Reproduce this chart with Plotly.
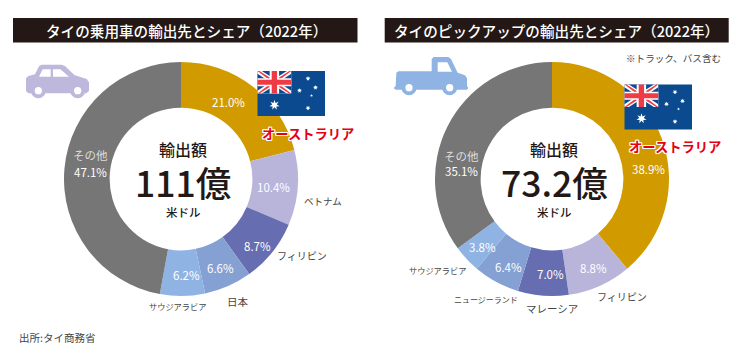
import plotly.graph_objects as go
import math

W, H = 740, 358
FONT = "Noto Sans CJK JP"

# --- data ---
car_labels = ["オーストラリア", "ベトナム", "フィリピン", "日本", "サウジアラビア", "その他"]
car_values = [21.0, 10.4, 8.7, 6.6, 6.2, 47.1]
car_total = "111億"
pickup_labels = ["オーストラリア", "フィリピン", "マレーシア", "ニュージーランド", "サウジアラビア", "その他"]
pickup_values = [38.9, 8.8, 7.0, 6.4, 3.8, 35.1]
pickup_total = "73.2億"
car_colors = ["#D19B00", "#B9B4DA", "#666DB0", "#85A0D2", "#8FB4E3", "#767676"]
pickup_colors = ["#D19B00", "#B9B4DA", "#666DB0", "#85A0D2", "#8FB4E3", "#767676"]
car_title = "タイの乗用車の輸出先とシェア\uff082022年\uff09"
pickup_title = "タイのピックアップの輸出先とシェア\uff082022年\uff09"


def px(x):
    return x / W


def py(y):
    return 1 - y / H


def poly(points):
    return "M" + " L".join(f"{px(x):.5f},{py(y):.5f}" for x, y in points) + " Z"


def donut(labels, values, colors, cx):
    R, cy = 117, 179
    return go.Pie(
        labels=labels, values=values, textinfo="none",
        marker=dict(colors=colors, line=dict(width=0)),
        sort=False, direction="clockwise", rotation=0, hole=0.61,
        domain=dict(x=[px(cx - R), px(cx + R)], y=[py(cy + R), py(cy - R)]),
        showlegend=False, hoverinfo="skip",
    )


fig = go.Figure([donut(car_labels, car_values, car_colors, 181),
                 donut(pickup_labels, pickup_values, pickup_colors, 552)])

shapes, annos = [], []


def rect(x0, y0, x1, y1, color):
    shapes.append(dict(type="rect", xref="paper", yref="paper", x0=px(x0), x1=px(x1),
                       y0=py(y0), y1=py(y1), fillcolor=color, line=dict(width=0), layer="above"))


def path(points, color):
    shapes.append(dict(type="path", xref="paper", yref="paper", path=poly(points),
                       fillcolor=color, line=dict(width=0), layer="above"))


def circle(cx, cy, r, color):
    shapes.append(dict(type="circle", xref="paper", yref="paper", x0=px(cx - r), x1=px(cx + r),
                       y0=py(cy + r), y1=py(cy - r), fillcolor=color, line=dict(width=0), layer="above"))


def text(x, y, s, size, color="#231815", anchor="center", weight=400, shadow=None, height=None):
    f = dict(family=FONT, size=size, color=color, weight=weight)
    if shadow:
        f["shadow"] = shadow
    a = dict(x=px(x), y=py(y), xref="paper", yref="paper", text=s, showarrow=False,
             xanchor=anchor, yanchor="middle", font=f, borderpad=0)
    if height:
        a["height"] = height
    annos.append(a)


def star(cx, cy, r, n=7, color="#FFFFFF"):
    pts = []
    for i in range(2 * n):
        a = math.pi * i / n - math.pi / 2
        rr = r if i % 2 == 0 else r * 0.45
        pts.append((cx + rr * math.cos(a), cy + rr * math.sin(a)))
    path(pts, color)


def flag(x0, y0):
    w, h = 67.5, 45.0
    navy, red = "#0B4A8F", "#EE3B45"
    rect(x0, y0, x0 + w, y0 + h, navy)
    cw, ch = w * 0.5, h * 0.5
    rect(x0, y0, x0 + cw, y0 + ch, "#FFFFFF")
    tri = [((.13, 0), (.87, 0), (.5, .36)), ((.13, 1), (.87, 1), (.5, .64)),
           ((0, .12), (0, .88), (.38, .5)), ((1, .12), (1, .88), (.62, .5))]
    for t in tri:
        path([(x0 + a * cw, y0 + b * ch) for a, b in t], navy)
    d = [((0, 0), (.06, 0), (.5, .42), (.44, .5)), ((1, 1), (.94, 1), (.5, .58), (.56, .5)),
         ((1, 0), (.94, 0), (.5, .42), (.56, .5)), ((0, 1), (.06, 1), (.5, .58), (.44, .5))]
    for t in d:
        path([(x0 + a * cw, y0 + b * ch) for a, b in t], red)
    rect(x0 + cw * .36, y0, x0 + cw * .64, y0 + ch, "#FFFFFF")
    rect(x0, y0 + ch * .32, x0 + cw, y0 + ch * .68, "#FFFFFF")
    rect(x0 + cw * .42, y0, x0 + cw * .58, y0 + ch, red)
    rect(x0, y0 + ch * .39, x0 + cw, y0 + ch * .61, red)
    star(x0 + 17, y0 + 34, 5.2)
    star(x0 + 50.5, y0 + 7.5, 2.6)
    star(x0 + 42, y0 + 19.5, 2.6)
    star(x0 + 58, y0 + 16.5, 2.6)
    star(x0 + 54, y0 + 24.5, 1.5, 5)
    star(x0 + 50.5, y0 + 37, 2.6)


def car_icon(color="#BDB8DC"):
    z = lambda x, y: (15 + x / 3, 55 + y / 3)
    path([z(*p) for p in [(33, 70), (40, 63), (60, 58), (72, 34), (80, 29), (140, 29), (150, 33), (178, 60),
                          (215, 72), (222, 82), (222, 108), (214, 115), (40, 115), (33, 108)]], color)
    path([z(*p) for p in [(72, 65), (83, 43), (107, 43), (107, 65)]], "#FFFFFF")
    path([z(*p) for p in [(114, 43), (136, 43), (162, 65), (114, 65)]], "#FFFFFF")
    for x in (70, 188):
        c = z(x, 107)
        circle(c[0], c[1], 7.5, color)
        circle(c[0], c[1], 3.6, "#FFFFFF")


def truck_icon(color="#8FB4E3"):
    z = lambda x, y: (385 + x / 3, 50 + y / 3)
    path([z(*p) for p in [(34, 68), (40, 64), (140, 64), (140, 28), (146, 21), (190, 21), (198, 27), (218, 68),
                          (240, 76), (246, 85), (246, 108), (250, 114), (246, 119), (32, 119), (26, 114), (32, 108)]], color)
    path([z(*p) for p in [(158, 37), (187, 37), (201, 65), (158, 65)]], "#FFFFFF")
    for x in (72, 194):
        c = z(x, 113)
        circle(c[0], c[1], 7.5, color)
        circle(c[0], c[1], 3.6, "#FFFFFF")


# title bars
rect(13, 18, 357.5, 42.5, "#231815")
rect(384.7, 18, 728.7, 42.5, "#231815")
text(186, 30.5, car_title, 14.6, "#FFFFFF", weight=500)
text(556.5, 30.5, pickup_title, 14.6, "#FFFFFF", weight=500)

text(673, 58, "※トラック、バス含む", 9.6, "#444444")

car_icon()
truck_icon()
flag(257.5, 71)
flag(624.5, 84.5)

halo = "1px 0 0 #fff,-1px 0 0 #fff,0 1px 0 #fff,0 -1px 0 #fff,1px 1px 0 #fff,-1px -1px 0 #fff,1px -1px 0 #fff,-1px 1px 0 #fff"
text(308, 133, car_labels[0], 13.3, "#E60012", weight=700, shadow=halo)
text(675, 146, pickup_labels[0], 13.3, "#E60012", weight=700, shadow=halo)

for cx, total in ((183, car_total), (554, pickup_total)):
    text(cx, 149, "輸出額", 16, weight=500, height=22)
    text(cx, 181, total, 35.5, weight=500, height=38)
    text(cx, 212, "米ドル", 11.5, weight=500, height=16)

# slice percentages
pct_pos_car = [(228, 102), (273, 187), (257, 245.5), (220, 267.5), (186, 275), (90, 172)]
pct_pos_pickup = [(648, 169), (593, 268), (550, 274), (508, 267), (482, 247), (461, 171)]
for values, pos in ((car_values, pct_pos_car), (pickup_values, pct_pos_pickup)):
    for v, (x, y) in zip(values, pos):
        text(x, y, f"{v:.1f}%", 11.5, "#FFFFFF")
text(90, 155, car_labels[5], 11.5, "#DDDDDD")
text(461, 156, pickup_labels[5], 11.5, "#DDDDDD")

for x, y, s, sz in [(323, 201, car_labels[1], 9.5), (302, 255, car_labels[2], 10),
                    (238, 301, car_labels[3], 10.5), (177, 306, car_labels[4], 8.2),
                    (622, 296, pickup_labels[1], 10), (552, 308, pickup_labels[2], 10.5),
                    (486, 299, pickup_labels[3], 8), (438, 270, pickup_labels[4], 8.2)]:
    text(x, y, s, sz, "#444444")

text(18, 337, "出所:タイ商務省", 10.5, "#444444", anchor="left")

fig.update_layout(width=W, height=H, margin=dict(l=0, r=0, t=0, b=0),
                  paper_bgcolor="#FFFFFF", plot_bgcolor="#FFFFFF",
                  shapes=shapes, annotations=annos, font=dict(family=FONT))
fig.write_html("out.html", config={"displayModeBar": False},
               post_script="document.body.style.margin='0';document.documentElement.style.overflow='hidden';")
